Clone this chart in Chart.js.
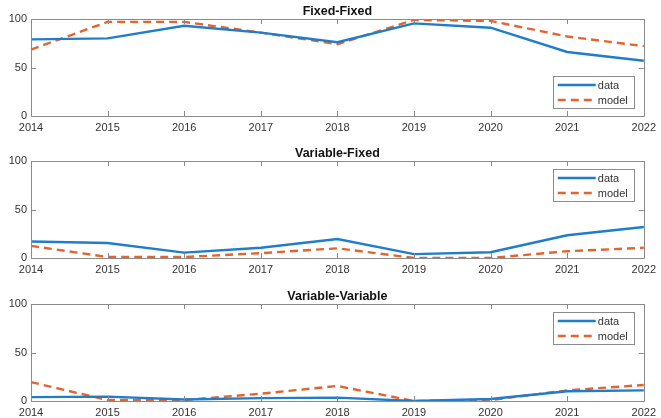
<!DOCTYPE html>
<html><head><meta charset="utf-8">
<script src="https://cdn.jsdelivr.net/npm/chart.js@4.4.1/dist/chart.umd.min.js"></script>
<style>
html,body{margin:0;padding:0;background:#fff;overflow:hidden;width:661px;height:418px;}
.p{position:absolute;left:0;width:661px;height:140px;}
</style></head><body>
<div class="p" style="top:0"><canvas id="c1" width="661" height="140"></canvas></div>
<div class="p" style="top:142px"><canvas id="c2" width="661" height="140"></canvas></div>
<div class="p" style="top:285px"><canvas id="c3" width="661" height="140"></canvas></div>
<script>
const years = ['2014','2015','2016','2017','2018','2019','2020','2021','2022'];
const yTicks = [0, 50, 100];
const titles = ['Fixed-Fixed', 'Variable-Fixed', 'Variable-Variable'];
const seriesNames = ['data', 'model'];

const fixedFixedData  = [79, 80, 93, 86, 76, 95.5, 91, 66, 57];
const fixedFixedModel = [68.5, 97, 97, 86, 74, 99, 98, 82, 72];

const variableFixedData  = [17, 15.5, 5.5, 10.5, 19.5, 4, 6, 23.5, 32];
const variableFixedModel = [12.5, 1, 1, 5, 10, 0, 0, 7, 10.5];

const variableVariableData  = [4, 4.5, 1.5, 3, 3.5, 0, 2, 10, 11];
const variableVariableModel = [19.5, 1, 1, 7.5, 15.5, 0, 1, 11, 16.5];

const BLUE = '#1f7dcc';
const ORANGE = '#e4642f';
const AXIS = '#8a8a8a';
const TXT = '#333333';
const FONT = "'Liberation Sans', Arial, sans-serif";

const titleCenter = {
  id: 'titleCenter',
  afterLayout(chart) {
    if (chart.titleBlock) {
      chart.titleBlock.left = chart.chartArea.left;
      chart.titleBlock.right = chart.chartArea.right;
    }
  }
};

const boxPlugin = {
  id: 'boxTicks',
  afterDatasetsDraw(chart) {
    const {ctx, chartArea: a, scales} = chart;
    ctx.save();
    ctx.strokeStyle = AXIS;
    ctx.lineWidth = 1;
    ctx.beginPath();
    ctx.rect(Math.round(a.left)+0.5, Math.round(a.top)+0.5, Math.round(a.right-a.left), Math.round(a.bottom-a.top));
    ctx.stroke();
    const tl = 5;
    ctx.beginPath();
    scales.x.ticks.forEach((t,i)=>{
      const x = Math.round(scales.x.getPixelForTick(i))+0.5;
      ctx.moveTo(x, a.bottom); ctx.lineTo(x, a.bottom - tl);
      ctx.moveTo(x, a.top); ctx.lineTo(x, a.top + tl);
    });
    scales.y.ticks.forEach((t,i)=>{
      const y = Math.round(scales.y.getPixelForTick(i))+0.5;
      ctx.moveTo(a.left, y); ctx.lineTo(a.left + tl, y);
      ctx.moveTo(a.right, y); ctx.lineTo(a.right - tl, y);
    });
    ctx.stroke();
    ctx.restore();
  }
};

const legendPlugin = {
  id: 'matLegend',
  afterDraw(chart, args, opts) {
    const {ctx, chartArea: a} = chart;
    const w = 81, h = 32;
    const right = a.right - 10;
    const left = right - w;
    const top = opts.where === 'bottom' ? a.bottom - 8 - h : a.top + 8;
    ctx.save();
    ctx.fillStyle = '#fff';
    ctx.fillRect(left, top, w, h);
    ctx.strokeStyle = AXIS;
    ctx.lineWidth = 1;
    ctx.strokeRect(Math.round(left)+0.5, Math.round(top)+0.5, w, h);
    chart.data.datasets.forEach((ds, i) => {
      const y = top + 9 + i * 15;
      ctx.beginPath();
      ctx.strokeStyle = ds.borderColor;
      ctx.lineWidth = ds.borderWidth;
      ctx.setLineDash(ds.borderDash || []);
      ctx.moveTo(left + 5, y);
      ctx.lineTo(left + 43, y);
      ctx.stroke();
      ctx.setLineDash([]);
      ctx.fillStyle = TXT;
      ctx.font = '11px ' + FONT;
      ctx.textBaseline = 'middle';
      ctx.fillText(ds.label, left + 45, y + 0.5);
    });
    ctx.restore();
  }
};

function makeChart(id, title, d, m, where) {
  return new Chart(document.getElementById(id), {
    type: 'line',
    data: {
      labels: years,
      datasets: [
        {label: seriesNames[0], data: d, borderColor: BLUE, borderWidth: 2.4, pointRadius: 0, tension: 0, fill: false},
        {label: seriesNames[1], data: m, borderColor: ORANGE, borderWidth: 2.4, borderDash: [8, 5], pointRadius: 0, tension: 0, fill: false}
      ]
    },
    options: {
      responsive: false,
      animation: false,
      layout: {padding: {left: 0, right: 15, top: 0, bottom: 0}},
      plugins: {
        legend: {display: false},
        tooltip: {enabled: false},
        title: {display: true, text: title, color: '#111', font: {family: FONT, size: 12.5, weight: 'bold'}, padding: {top: 4, bottom: 0}},
        matLegend: {where: where}
      },
      scales: {
        x: {
          type: 'category',
          offset: false,
          grid: {display: false, drawTicks: false},
          border: {display: false},
          ticks: {color: TXT, font: {family: FONT, size: 11}, padding: 5, maxRotation: 0, autoSkip: false},
          afterFit(s) { s.height = 24; }
        },
        y: {
          min: 0, max: 100,
          grid: {display: false, drawTicks: false},
          border: {display: false},
          afterBuildTicks(s) { s.ticks = yTicks.map(v => ({value: v})); },
          ticks: {color: TXT, font: {family: FONT, size: 11}, padding: 4},
          afterFit(s) { s.width = 31; }
        }
      }
    },
    plugins: [titleCenter, boxPlugin, legendPlugin]
  });
}

makeChart('c1', titles[0], fixedFixedData, fixedFixedModel, 'bottom');
makeChart('c2', titles[1], variableFixedData, variableFixedModel, 'top');
makeChart('c3', titles[2], variableVariableData, variableVariableModel, 'top');
</script>
</body></html>
